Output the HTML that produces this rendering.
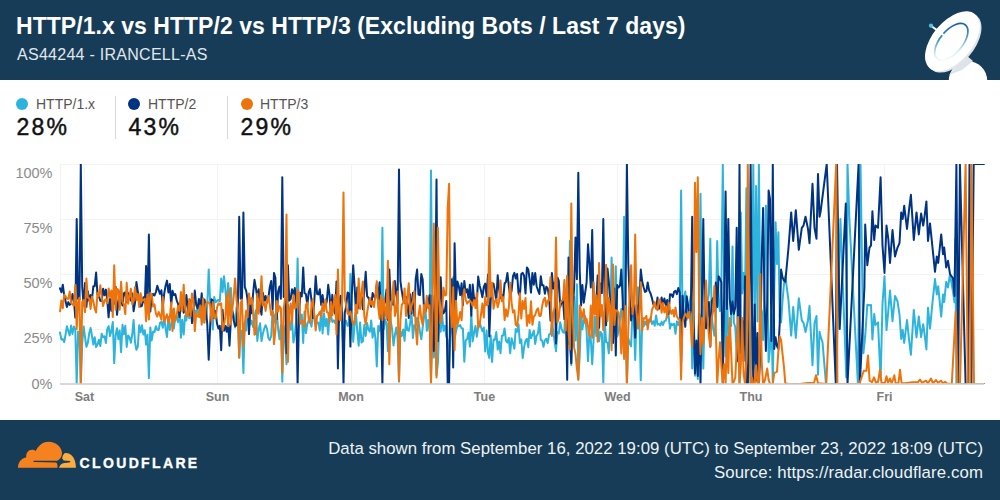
<!DOCTYPE html>
<html><head><meta charset="utf-8"><title>HTTP/1.x vs HTTP/2 vs HTTP/3</title>
<style>
html,body{margin:0;padding:0;}
body{width:1000px;height:500px;overflow:hidden;background:#fff;position:relative;font-family:"Liberation Sans",sans-serif;}
.abs{position:absolute;white-space:nowrap;}
#hdr{left:0;top:0;width:1000px;height:80px;background:#163C57;}
#ftr{left:0;top:420px;width:1000px;height:80px;background:#163C57;}
#title{left:16px;top:14.1px;font-size:23px;line-height:24px;font-weight:bold;color:#fff;letter-spacing:0.04px;}
#sub{left:17px;top:46.4px;font-size:16px;line-height:18px;color:#e1e7ec;letter-spacing:0.27px;}
.lg{font-size:14px;line-height:16px;color:#555;}
.lv{font-size:23px;line-height:24px;color:#111;-webkit-text-stroke:0.45px #111;letter-spacing:2.2px;}
.dot{width:12px;height:12px;border-radius:6px;}
.sep{width:1px;background:#d9d9d9;top:96px;height:43px;}
.ft{right:17px;font-size:16.8px;line-height:20px;color:#eef2f5;text-align:right;}
#cf{left:79.6px;top:455px;font-size:14px;line-height:16px;font-weight:bold;color:#fff;letter-spacing:2.35px;-webkit-text-stroke:0.35px #fff;}
</style></head><body>
<div id="hdr" class="abs"></div>
<div id="title" class="abs">HTTP/1.x vs HTTP/2 vs HTTP/3 (Excluding Bots / Last 7 days)</div>
<div id="sub" class="abs">AS44244 - IRANCELL-AS</div>

<svg class="abs" style="left:900px;top:0" width="100" height="80" viewBox="900 0 100 80">
 <defs>
  <linearGradient id="rg" x1="1" y1="0.2" x2="0" y2="0.8">
   <stop offset="0" stop-color="#0e5a9c"/><stop offset="0.4" stop-color="#3f93c4"/><stop offset="0.75" stop-color="#d9edf6"/><stop offset="1" stop-color="#ffffff"/>
  </linearGradient>
 </defs>
 <circle cx="968" cy="80.5" r="19.2" fill="#fff"/>
 <path d="M949 75 L966 55 L973 61 L962 70 Z" fill="#dde4e9"/>
 <g transform="rotate(-50 953 42.5)">
  <ellipse cx="953.6" cy="43.2" rx="35.3" ry="20.4" fill="#dfe5ea"/>
  <ellipse cx="953.6" cy="41.2" rx="35.3" ry="20" fill="#fff"/>
  <ellipse cx="952.4" cy="40.8" rx="22" ry="11.3" fill="none" stroke="url(#rg)" stroke-width="1.7"/>
 </g>
 <line x1="931.3" y1="26" x2="943" y2="34.6" stroke="#fff" stroke-width="2" stroke-linecap="round"/>
 <circle cx="931" cy="25.7" r="2.1" fill="#56c3de"/>
</svg>

<!-- legend -->
<div class="abs dot" style="left:16px;top:98px;background:#2DB4DC"></div>
<div class="abs lg" style="left:36px;top:96px">HTTP/1.x</div>
<div class="abs lv" style="left:16.5px;top:115px">28%</div>
<div class="abs sep" style="left:115px"></div>
<div class="abs dot" style="left:128px;top:98px;background:#003482"></div>
<div class="abs lg" style="left:148px;top:96px">HTTP/2</div>
<div class="abs lv" style="left:128.5px;top:115px">43%</div>
<div class="abs sep" style="left:227px"></div>
<div class="abs dot" style="left:240.5px;top:98px;background:#EE730A"></div>
<div class="abs lg" style="left:260px;top:96px">HTTP/3</div>
<div class="abs lv" style="left:240.5px;top:115px">29%</div>

<!-- chart -->
<svg class="abs" style="left:0;top:150px" width="1000" height="270" viewBox="0 150 1000 270">
 <defs><clipPath id="cp"><rect x="59" y="164" width="926" height="220"/></clipPath></defs>
 <g stroke="#f3f3f3" stroke-width="1" fill="none" shape-rendering="crispEdges">
  <path d="M60 164.5H984 M60 219.5H984 M60 274.5H984 M60 329.5H984"/>
  <path d="M60.5 164V384 M84.5 164V384 M217.5 164V384 M351.5 164V384 M484.5 164V384 M617.5 164V384 M751.5 164V384 M884.5 164V384"/>
 </g>
 <g fill="none" stroke-width="2" stroke-linejoin="round" stroke-linecap="round" clip-path="url(#cp)">
  <path stroke="#2DB4DC" d="M60.0 332.5 L61.4 339.4 L62.8 339.1 L64.2 342.0 L65.6 334.3 L66.9 326.3 L68.3 331.0 L69.7 335.4 L71.1 325.6 L72.5 333.9 L73.9 326.5 L75.3 329.4 L76.7 384.0 L78.1 331.4 L79.5 334.7 L80.8 384.0 L82.2 343.6 L83.6 326.5 L85.0 336.8 L86.4 346.8 L87.8 343.0 L89.2 333.3 L90.6 328.0 L92.0 336.0 L93.3 344.6 L94.7 337.2 L96.1 347.0 L97.5 344.5 L98.9 339.7 L100.3 346.1 L101.7 333.7 L103.1 337.3 L104.5 336.3 L105.9 343.1 L107.2 329.3 L108.6 326.2 L110.0 336.1 L111.4 330.8 L112.8 322.0 L114.2 363.1 L115.6 335.5 L117.0 328.3 L118.4 339.2 L119.7 330.6 L121.1 352.1 L122.5 324.8 L123.9 334.2 L125.3 325.7 L126.7 347.0 L128.1 335.4 L129.5 337.3 L130.9 342.7 L132.3 334.0 L133.6 319.9 L135.0 342.1 L136.4 349.8 L137.8 346.7 L139.2 325.2 L140.6 332.2 L142.0 325.3 L143.4 334.6 L144.8 330.2 L146.1 344.7 L147.5 334.8 L148.9 378.1 L150.3 327.4 L151.7 340.4 L153.1 331.6 L154.5 332.2 L155.9 326.3 L157.3 329.8 L158.7 330.0 L160.0 322.9 L161.4 321.9 L162.8 327.8 L164.2 316.4 L165.6 328.7 L167.0 337.0 L168.4 317.1 L169.8 330.0 L171.2 324.6 L172.5 310.2 L173.9 328.5 L175.3 317.0 L176.7 316.8 L178.1 322.2 L179.5 304.2 L180.9 337.7 L182.3 319.8 L183.7 334.5 L185.1 315.7 L186.4 320.5 L187.8 307.7 L189.2 318.2 L190.6 315.4 L192.0 315.4 L193.4 320.6 L194.8 310.2 L196.2 313.9 L197.6 307.4 L198.9 316.2 L200.3 317.6 L201.7 314.1 L203.1 322.0 L204.5 309.8 L205.9 319.2 L207.3 305.5 L208.7 269.6 L210.1 300.4 L211.5 311.0 L212.8 329.5 L214.2 296.9 L215.6 302.2 L217.0 300.7 L218.4 300.0 L219.8 301.5 L221.2 278.4 L222.6 291.9 L224.0 276.2 L225.3 289.2 L226.7 305.6 L228.1 283.0 L229.5 296.8 L230.9 287.9 L232.3 311.9 L233.7 314.7 L235.1 327.5 L236.5 307.2 L237.9 317.7 L239.2 357.6 L240.6 330.2 L242.0 332.9 L243.4 373.0 L244.8 321.5 L246.2 330.5 L247.6 314.7 L249.0 304.5 L250.4 324.5 L251.7 320.8 L253.1 327.0 L254.5 317.5 L255.9 310.3 L257.3 340.9 L258.7 329.1 L260.1 323.3 L261.5 341.1 L262.9 333.5 L264.3 328.5 L265.6 325.2 L267.0 328.8 L268.4 338.2 L269.8 340.1 L271.2 335.9 L272.6 311.1 L274.0 315.0 L275.4 323.8 L276.8 311.9 L278.1 328.8 L279.5 339.3 L280.9 325.0 L282.3 381.8 L283.7 325.8 L285.1 339.4 L286.5 364.2 L287.9 304.8 L289.3 319.0 L290.7 329.7 L292.0 319.3 L293.4 342.5 L294.8 335.4 L296.2 320.6 L297.6 258.6 L299.0 323.2 L300.4 315.5 L301.8 314.6 L303.2 343.0 L304.5 311.8 L305.9 333.3 L307.3 324.1 L308.7 320.4 L310.1 320.4 L311.5 326.7 L312.9 314.9 L314.3 314.0 L315.7 325.4 L317.1 322.2 L318.4 322.6 L319.8 330.7 L321.2 310.4 L322.6 333.4 L324.0 313.3 L325.4 326.3 L326.8 318.8 L328.2 334.5 L329.6 314.7 L330.9 315.5 L332.3 321.9 L333.7 320.4 L335.1 323.0 L336.5 316.0 L337.9 293.8 L339.3 308.9 L340.7 316.0 L342.1 319.5 L343.5 355.4 L344.8 320.7 L346.2 321.0 L347.6 325.9 L349.0 323.8 L350.4 274.0 L351.8 318.3 L353.2 341.8 L354.6 324.7 L356.0 314.5 L357.3 331.4 L358.7 345.7 L360.1 322.5 L361.5 342.6 L362.9 341.3 L364.3 325.0 L365.7 335.9 L367.1 323.1 L368.5 329.6 L369.9 331.7 L371.2 320.4 L372.6 337.7 L374.0 328.2 L375.4 338.1 L376.8 366.5 L378.2 326.1 L379.6 331.0 L381.0 321.4 L382.4 227.8 L383.7 329.1 L385.1 319.4 L386.5 323.8 L387.9 351.3 L389.3 298.2 L390.7 320.6 L392.1 329.2 L393.5 345.5 L394.9 335.0 L396.3 327.4 L397.6 337.6 L399.0 381.8 L400.4 331.2 L401.8 335.9 L403.2 329.5 L404.6 340.8 L406.0 319.3 L407.4 330.2 L408.8 330.8 L410.1 323.5 L411.5 312.7 L412.9 337.9 L414.3 325.2 L415.7 326.0 L417.1 318.0 L418.5 321.5 L419.9 331.5 L421.3 339.3 L422.7 327.3 L424.0 317.5 L425.4 308.3 L426.8 330.8 L428.2 320.0 L429.6 331.4 L431.0 170.6 L432.4 327.0 L433.8 357.6 L435.2 330.6 L436.5 375.2 L437.9 362.9 L439.3 324.8 L440.7 331.7 L442.1 314.6 L443.5 330.8 L444.9 325.7 L446.3 336.3 L447.7 340.0 L449.1 364.2 L450.4 336.6 L451.8 325.6 L453.2 277.3 L454.6 338.6 L456.0 331.3 L457.4 325.6 L458.8 326.3 L460.2 325.0 L461.6 328.5 L462.9 328.4 L464.3 361.8 L465.7 340.3 L467.1 339.2 L468.5 332.6 L469.9 346.6 L471.3 313.9 L472.7 341.4 L474.1 332.7 L475.5 326.0 L476.8 336.7 L478.2 327.2 L479.6 321.9 L481.0 327.0 L482.4 331.2 L483.8 327.5 L485.2 351.4 L486.6 330.5 L488.0 352.9 L489.3 357.9 L490.7 335.6 L492.1 362.0 L493.5 339.6 L494.9 339.9 L496.3 332.1 L497.7 349.6 L499.1 341.6 L500.5 353.2 L501.9 335.8 L503.2 335.5 L504.6 328.5 L506.0 340.9 L507.4 342.6 L508.8 337.9 L510.2 353.2 L511.6 338.3 L513.0 343.3 L514.4 348.7 L515.7 329.1 L517.1 331.7 L518.5 324.2 L519.9 342.9 L521.3 339.5 L522.7 358.0 L524.1 347.3 L525.5 340.6 L526.9 338.8 L528.3 347.2 L529.6 330.0 L531.0 338.1 L532.4 334.3 L533.8 330.7 L535.2 343.9 L536.6 335.7 L538.0 333.4 L539.4 322.0 L540.8 340.1 L542.1 340.4 L543.5 346.7 L544.9 340.4 L546.3 338.7 L547.7 343.1 L549.1 334.5 L550.5 334.0 L551.9 323.2 L553.3 330.7 L554.7 342.5 L556.0 351.2 L557.4 332.1 L558.8 333.5 L560.2 322.2 L561.6 328.8 L563.0 332.3 L564.4 332.8 L565.8 294.2 L567.2 276.1 L568.5 344.1 L569.9 240.9 L571.3 365.1 L572.7 306.1 L574.1 296.9 L575.5 340.5 L576.9 284.3 L578.3 379.5 L579.7 356.3 L581.1 314.3 L582.4 329.4 L583.8 320.1 L585.2 316.3 L586.6 330.8 L588.0 361.1 L589.4 333.2 L590.8 339.1 L592.2 364.3 L593.6 339.5 L594.9 316.6 L596.3 336.1 L597.7 314.9 L599.1 341.3 L600.5 331.9 L601.9 333.9 L603.3 382.7 L604.7 320.8 L606.1 342.0 L607.5 342.6 L608.8 353.3 L610.2 322.2 L611.6 257.5 L613.0 324.4 L614.4 318.5 L615.8 266.3 L617.2 336.5 L618.6 331.8 L620.0 318.7 L621.3 309.1 L622.7 320.4 L624.1 216.8 L625.5 318.5 L626.9 384.0 L628.3 338.6 L629.7 343.1 L631.1 346.3 L632.5 310.1 L633.9 323.4 L635.2 360.0 L636.6 314.7 L638.0 287.2 L639.4 319.7 L640.8 380.2 L642.2 319.6 L643.6 326.5 L645.0 321.4 L646.4 324.9 L647.7 320.3 L649.1 322.1 L650.5 317.8 L651.9 324.0 L653.3 321.2 L654.7 325.8 L656.1 315.5 L657.5 324.6 L658.9 323.8 L660.3 325.4 L661.6 321.8 L663.0 325.0 L664.4 321.1 L665.8 320.5 L667.2 314.7 L668.6 315.3 L670.0 328.5 L671.4 323.8 L672.8 325.0 L674.1 323.7 L675.5 333.8 L676.9 321.3 L678.3 325.0 L679.7 320.2 L681.1 190.4 L682.5 313.9 L683.9 299.3 L685.3 291.6 L686.7 319.8 L688.0 309.4 L689.4 303.7 L690.8 295.7 L692.2 368.6 L693.6 302.7 L695.0 375.8 L696.4 349.7 L697.8 378.9 L699.2 299.9 L700.5 193.7 L701.9 315.9 L703.3 368.6 L704.7 305.4 L706.1 323.1 L707.5 301.3 L708.9 294.0 L710.3 238.8 L711.7 315.3 L713.1 327.9 L714.4 335.7 L715.8 320.5 L717.2 241.0 L718.6 302.7 L720.0 311.0 L721.4 283.1 L722.8 164.0 L724.2 276.7 L725.6 356.5 L726.9 286.6 L728.3 340.0 L729.7 326.1 L731.1 326.2 L732.5 246.5 L733.9 322.7 L735.3 327.0 L736.7 355.2 L738.1 316.5 L739.5 384.0 L740.8 212.4 L742.2 293.5 L743.6 272.7 L745.0 295.2 L746.4 188.2 L747.8 384.0 L749.2 321.6 L750.6 384.0 L752.0 314.2 L753.3 164.0 L754.7 325.7 L756.1 186.0 L757.5 321.4 L758.9 164.0 L760.3 305.8 L761.7 311.4 L763.1 340.0 L764.5 287.5 L765.9 205.8 L767.2 265.1 L768.6 362.0 L770.0 348.8 L771.4 313.4 L772.8 384.0 L774.2 293.1 L775.6 222.3 L777.0 263.9 L778.4 232.2 L779.7 316.7 L781.1 322.4 L782.5 301.3 L783.9 285.0 L785.3 276.2 L788.5 300.4 L791.2 335.6 L793.2 307.0 L795.8 337.8 L798.8 298.2 L801.8 320.4 L803.5 322.9 L805.5 332.0 L808.0 320.2 L809.5 305.9 L812.5 365.3 L814.5 323.2 L816.5 316.0 L818.0 374.8 L819.5 331.7 L820.5 336.1 L822.5 342.2 L826.0 384.0 L836.0 384.0 L840.4 219.0 L846.3 377.4 L847.5 164.0 L849.5 221.2 L857.9 384.0 L860.5 164.0 L863.4 353.2 L865.2 336.7 L867.3 304.7 L869.5 305.3 L871.0 305.0 L872.4 339.4 L874.2 314.0 L875.5 324.9 L878.0 322.4 L880.6 379.8 L882.5 303.7 L884.5 276.2 L886.5 330.1 L888.3 311.0 L890.0 290.5 L892.5 321.2 L895.0 296.0 L897.5 301.3 L899.5 314.7 L901.2 338.9 L902.7 329.9 L904.2 343.0 L907.0 320.1 L909.0 339.1 L910.9 354.8 L913.8 309.9 L916.5 337.4 L918.8 316.4 L921.1 337.1 L923.2 324.2 L924.5 333.7 L926.4 349.4 L928.0 307.7 L930.0 328.5 L932.5 302.3 L935.0 279.1 L936.8 294.5 L938.2 286.3 L941.2 316.6 L943.0 294.5 L944.2 302.0 L946.2 281.7 L948.0 287.5 L950.0 274.2 L953.0 291.9 L954.5 302.3 L955.3 238.8 L956.4 384.0 L984.0 384.0"/>
  <path stroke="#003482" d="M60.0 288.3 L61.4 292.2 L62.8 284.7 L64.2 295.3 L65.6 301.4 L66.9 306.9 L68.3 302.1 L69.7 304.9 L71.1 303.4 L72.5 293.9 L73.9 299.8 L75.3 317.6 L76.7 219.0 L78.1 299.0 L79.5 299.4 L80.8 164.0 L82.2 286.6 L83.6 305.4 L85.0 283.1 L86.4 306.8 L87.8 291.2 L89.2 300.5 L90.6 295.1 L92.0 299.5 L93.3 286.3 L94.7 286.2 L96.1 272.5 L97.5 294.6 L98.9 296.1 L100.3 300.7 L101.7 301.1 L103.1 288.8 L104.5 295.3 L105.9 289.6 L107.2 299.5 L108.6 317.3 L110.0 299.0 L111.4 310.8 L112.8 293.0 L114.2 303.7 L115.6 286.8 L117.0 314.8 L118.4 302.7 L119.7 291.7 L121.1 298.2 L122.5 305.5 L123.9 293.2 L125.3 292.2 L126.7 302.3 L128.1 292.9 L129.5 298.1 L130.9 300.5 L132.3 293.5 L133.6 311.3 L135.0 302.8 L136.4 282.0 L137.8 291.3 L139.2 299.9 L140.6 306.6 L142.0 305.7 L143.4 297.3 L144.8 303.1 L146.1 266.1 L147.5 302.8 L148.9 234.4 L150.3 311.6 L151.7 297.0 L153.1 293.8 L154.5 295.5 L155.9 292.0 L157.3 285.8 L158.7 290.1 L160.0 293.9 L161.4 290.3 L162.8 307.2 L164.2 293.7 L165.6 285.7 L167.0 280.6 L168.4 292.5 L169.8 284.1 L171.2 304.9 L172.5 290.8 L173.9 295.1 L175.3 294.0 L176.7 300.3 L178.1 304.0 L179.5 317.0 L180.9 302.3 L182.3 300.8 L183.7 312.7 L185.1 307.6 L186.4 295.1 L187.8 308.6 L189.2 314.7 L190.6 300.2 L192.0 323.1 L193.4 311.3 L194.8 290.6 L196.2 304.8 L197.6 308.3 L198.9 298.9 L200.3 309.1 L201.7 293.3 L203.1 311.8 L204.5 299.4 L205.9 308.9 L207.3 324.5 L208.7 359.8 L210.1 327.2 L211.5 299.3 L212.8 300.5 L214.2 317.8 L215.6 311.1 L217.0 323.6 L218.4 328.6 L219.8 325.9 L221.2 350.3 L222.6 309.8 L224.0 330.8 L225.3 325.9 L226.7 331.8 L228.1 322.9 L229.5 345.8 L230.9 319.7 L232.3 310.6 L233.7 320.2 L235.1 326.1 L236.5 325.2 L237.9 301.2 L239.2 216.8 L240.6 298.4 L242.0 299.6 L243.4 212.4 L244.8 287.1 L246.2 290.9 L247.6 299.9 L249.0 334.1 L250.4 303.6 L251.7 313.3 L253.1 293.5 L254.5 279.8 L255.9 288.1 L257.3 297.3 L258.7 289.2 L260.1 306.1 L261.5 314.7 L262.9 292.8 L264.3 301.5 L265.6 295.9 L267.0 302.6 L268.4 297.8 L269.8 286.9 L271.2 281.0 L272.6 309.4 L274.0 272.9 L275.4 277.7 L276.8 319.1 L278.1 291.6 L279.5 286.5 L280.9 298.7 L282.3 177.2 L283.7 296.9 L285.1 295.4 L286.5 353.2 L287.9 265.2 L289.3 300.7 L290.7 298.9 L292.0 289.2 L293.4 294.8 L294.8 288.1 L296.2 304.2 L297.6 384.0 L299.0 315.9 L300.4 292.7 L301.8 296.4 L303.2 267.4 L304.5 293.2 L305.9 294.0 L307.3 305.3 L308.7 292.3 L310.1 288.7 L311.5 300.4 L312.9 318.1 L314.3 301.3 L315.7 276.2 L317.1 294.0 L318.4 294.4 L319.8 289.3 L321.2 304.9 L322.6 295.1 L324.0 307.4 L325.4 306.5 L326.8 301.2 L328.2 284.8 L329.6 295.4 L330.9 314.8 L332.3 294.8 L333.7 308.8 L335.1 313.8 L336.5 281.6 L337.9 368.6 L339.3 303.4 L340.7 295.7 L342.1 311.4 L343.5 384.0 L344.8 312.6 L346.2 306.1 L347.6 292.5 L349.0 293.3 L350.4 346.6 L351.8 294.9 L353.2 265.2 L354.6 286.3 L356.0 312.7 L357.3 287.4 L358.7 307.9 L360.1 300.6 L361.5 296.7 L362.9 309.3 L364.3 291.0 L365.7 271.8 L367.1 296.1 L368.5 297.9 L369.9 302.5 L371.2 306.8 L372.6 293.0 L374.0 296.7 L375.4 298.3 L376.8 284.3 L378.2 299.1 L379.6 282.3 L381.0 315.3 L382.4 384.0 L383.7 304.5 L385.1 302.2 L386.5 289.5 L387.9 319.9 L389.3 269.6 L390.7 298.8 L392.1 303.3 L393.5 304.9 L394.9 281.1 L396.3 294.4 L397.6 302.9 L399.0 169.5 L400.4 281.1 L401.8 291.1 L403.2 299.7 L404.6 302.8 L406.0 296.8 L407.4 305.5 L408.8 318.0 L410.1 294.3 L411.5 313.5 L412.9 292.7 L414.3 315.7 L415.7 278.9 L417.1 269.6 L418.5 294.6 L419.9 295.1 L421.3 274.0 L422.7 279.6 L424.0 309.4 L425.4 311.4 L426.8 305.5 L428.2 303.8 L429.6 295.2 L431.0 377.4 L432.4 295.5 L433.8 351.0 L435.2 300.2 L436.5 179.4 L437.9 341.3 L439.3 307.5 L440.7 277.3 L442.1 306.4 L443.5 313.4 L444.9 310.6 L446.3 301.0 L447.7 384.0 L449.1 384.0 L450.4 292.1 L451.8 279.3 L453.2 367.5 L454.6 243.2 L456.0 300.0 L457.4 281.5 L458.8 286.1 L460.2 295.1 L461.6 283.3 L462.9 305.2 L464.3 280.9 L465.7 292.6 L467.1 289.2 L468.5 297.8 L469.9 284.7 L471.3 315.7 L472.7 284.6 L474.1 299.2 L475.5 297.9 L476.8 302.6 L478.2 276.6 L479.6 285.4 L481.0 290.6 L482.4 297.2 L483.8 287.0 L485.2 283.6 L486.6 296.4 L488.0 274.6 L489.3 336.4 L490.7 299.6 L492.1 287.2 L493.5 283.6 L494.9 291.1 L496.3 300.9 L497.7 275.2 L499.1 289.0 L500.5 298.2 L501.9 294.9 L503.2 299.3 L504.6 283.5 L506.0 281.9 L507.4 272.9 L508.8 285.9 L510.2 296.0 L511.6 290.8 L513.0 276.2 L514.4 272.9 L515.7 278.5 L517.1 274.0 L518.5 292.9 L519.9 295.9 L521.3 274.0 L522.7 272.9 L524.1 275.8 L525.5 293.5 L526.9 267.4 L528.3 269.6 L529.6 279.2 L531.0 292.6 L532.4 272.9 L533.8 284.7 L535.2 273.1 L536.6 286.2 L538.0 290.3 L539.4 294.0 L540.8 276.2 L542.1 285.3 L543.5 285.3 L544.9 293.7 L546.3 286.7 L547.7 288.4 L549.1 297.1 L550.5 320.7 L551.9 272.9 L553.3 288.5 L554.7 282.5 L556.0 343.4 L557.4 277.4 L558.8 280.8 L560.2 306.9 L561.6 302.1 L563.0 299.8 L564.4 319.1 L565.8 307.4 L567.2 379.8 L568.5 257.5 L569.9 341.6 L571.3 363.3 L572.7 310.7 L574.1 287.7 L575.5 237.5 L576.9 279.3 L578.3 172.8 L579.7 270.2 L581.1 305.5 L582.4 285.0 L583.8 302.7 L585.2 292.5 L586.6 282.3 L588.0 244.3 L589.4 263.0 L590.8 287.5 L592.2 230.0 L593.6 310.3 L594.9 300.9 L596.3 300.6 L597.7 275.4 L599.1 327.7 L600.5 283.5 L601.9 293.0 L603.3 219.0 L604.7 305.0 L606.1 325.2 L607.5 268.5 L608.8 281.0 L610.2 302.8 L611.6 324.2 L613.0 343.0 L614.4 288.5 L615.8 355.6 L617.2 284.9 L618.6 287.5 L620.0 285.7 L621.3 269.5 L622.7 300.6 L624.1 356.3 L625.5 307.5 L626.9 164.0 L628.3 263.7 L629.7 296.6 L631.1 320.5 L632.5 307.7 L633.9 305.2 L635.2 337.6 L636.6 305.0 L638.0 316.4 L639.4 300.1 L640.8 269.6 L642.2 281.5 L643.6 287.2 L645.0 292.0 L646.4 291.2 L647.7 282.4 L649.1 290.4 L650.5 293.2 L651.9 297.9 L653.3 304.3 L654.7 304.1 L656.1 308.4 L657.5 297.4 L658.9 308.8 L660.3 305.6 L661.6 297.5 L663.0 303.9 L664.4 298.5 L665.8 305.2 L667.2 299.9 L668.6 314.1 L670.0 294.3 L671.4 294.5 L672.8 297.0 L674.1 291.8 L675.5 290.8 L676.9 294.1 L678.3 288.0 L679.7 292.4 L681.1 362.0 L682.5 295.7 L683.9 315.2 L685.3 326.8 L686.7 296.2 L688.0 304.8 L689.4 316.9 L690.8 310.5 L692.2 216.8 L693.6 320.3 L695.0 373.5 L696.4 340.6 L697.8 375.9 L699.2 314.1 L700.5 384.0 L701.9 298.1 L703.3 219.0 L704.7 315.5 L706.1 328.3 L707.5 312.8 L708.9 302.0 L710.3 346.6 L711.7 301.1 L713.1 298.1 L714.4 310.4 L715.8 282.5 L717.2 307.0 L718.6 276.2 L720.0 278.8 L721.4 282.5 L722.8 384.0 L724.2 291.1 L725.6 191.5 L726.9 308.9 L728.3 219.0 L729.7 298.6 L731.1 314.2 L732.5 301.5 L733.9 313.9 L735.3 307.1 L736.7 227.8 L738.1 361.4 L739.5 164.0 L740.8 353.2 L742.2 320.5 L743.6 361.0 L745.0 276.2 L746.4 384.0 L747.8 384.0 L749.2 327.5 L750.6 164.0 L752.0 311.5 L753.3 384.0 L754.7 304.6 L756.1 380.7 L757.5 333.1 L758.9 384.0 L760.3 352.2 L761.7 258.6 L763.1 208.0 L764.5 299.6 L765.9 351.0 L767.2 303.4 L768.6 190.4 L770.0 199.2 L771.4 341.1 L772.8 164.0 L774.2 348.9 L775.6 337.3 L777.0 346.4 L778.4 349.0 L779.7 323.8 L781.1 269.6 L782.5 277.1 L783.9 280.6 L785.3 281.8 L788.5 247.6 L791.2 212.4 L793.2 241.0 L795.8 210.2 L798.8 249.8 L801.8 227.8 L803.5 225.6 L805.5 216.8 L808.0 228.9 L809.5 243.2 L812.5 183.8 L814.5 227.8 L816.5 238.8 L818.0 173.9 L819.5 216.8 L820.5 212.4 L826.7 164.0 L835.8 384.0 L837.0 164.0 L839.7 329.0 L845.8 203.6 L847.5 384.0 L858.6 164.0 L859.9 384.0 L864.4 287.2 L865.2 224.5 L867.3 265.2 L869.5 247.6 L871.0 245.4 L872.4 211.3 L874.2 239.9 L875.5 225.6 L878.0 227.8 L880.6 177.2 L882.5 245.4 L884.5 272.9 L886.5 225.6 L888.3 238.8 L890.0 263.0 L892.5 230.0 L895.0 256.4 L897.5 247.6 L899.5 243.2 L901.2 212.4 L902.7 219.0 L904.2 205.8 L907.0 228.9 L909.0 210.2 L910.9 194.8 L913.8 239.9 L916.5 212.4 L918.8 234.4 L921.1 213.5 L923.2 225.6 L924.5 216.8 L926.4 201.4 L928.0 241.0 L930.0 223.4 L932.5 247.6 L935.0 271.8 L936.8 256.4 L938.2 263.0 L941.2 234.4 L943.0 254.2 L944.2 247.6 L946.2 267.4 L948.0 260.8 L950.0 274.0 L953.0 278.4 L954.5 296.0 L956.4 164.0 L958.2 384.0 L959.9 164.0 L965.6 384.0 L968.0 384.0 L969.5 164.0 L971.4 384.0 L973.7 164.0 L984.0 164.0"/>
  <path stroke="#EE730A" d="M60.0 311.3 L61.4 300.4 L62.8 308.2 L64.2 294.7 L65.6 296.4 L66.9 298.8 L68.3 298.9 L69.7 291.6 L71.1 303.0 L72.5 304.3 L73.9 305.7 L75.3 285.0 L76.7 329.0 L78.1 301.6 L79.5 297.8 L80.8 384.0 L82.2 301.8 L83.6 300.1 L85.0 312.1 L86.4 278.4 L87.8 297.8 L89.2 298.2 L90.6 308.9 L92.0 296.5 L93.3 301.0 L94.7 308.6 L96.1 312.5 L97.5 292.9 L98.9 296.2 L100.3 285.2 L101.7 297.2 L103.1 306.0 L104.5 300.4 L105.9 299.4 L107.2 303.2 L108.6 288.5 L110.0 296.9 L111.4 290.4 L112.8 316.9 L114.2 265.2 L115.6 309.6 L117.0 288.8 L118.4 290.0 L119.7 309.7 L121.1 281.7 L122.5 301.6 L123.9 304.7 L125.3 314.1 L126.7 282.7 L128.1 303.7 L129.5 296.6 L130.9 288.8 L132.3 304.5 L133.6 300.8 L135.0 287.1 L136.4 300.2 L137.8 294.0 L139.2 306.9 L140.6 293.2 L142.0 301.0 L143.4 300.1 L144.8 298.7 L146.1 321.2 L147.5 294.4 L148.9 319.5 L150.3 293.0 L151.7 294.6 L153.1 306.6 L154.5 304.3 L155.9 313.6 L157.3 316.5 L158.7 311.9 L160.0 315.2 L161.4 319.8 L162.8 297.0 L164.2 321.9 L165.6 317.6 L167.0 314.4 L168.4 322.4 L169.8 317.9 L171.2 302.5 L172.5 331.0 L173.9 308.4 L175.3 321.0 L176.7 314.9 L178.1 305.8 L179.5 310.8 L180.9 292.0 L182.3 311.4 L183.7 284.8 L185.1 308.7 L186.4 316.5 L187.8 315.7 L189.2 299.1 L190.6 316.4 L192.0 293.5 L193.4 300.1 L194.8 331.1 L196.2 313.3 L197.6 316.4 L198.9 316.8 L200.3 305.4 L201.7 324.6 L203.1 298.2 L204.5 322.8 L205.9 303.9 L207.3 302.0 L208.7 302.6 L210.1 304.4 L211.5 321.7 L212.8 302.0 L214.2 317.3 L215.6 318.8 L217.0 307.7 L218.4 303.4 L219.8 304.7 L221.2 303.3 L222.6 330.3 L224.0 325.0 L225.3 316.9 L226.7 294.6 L228.1 326.1 L229.5 289.4 L230.9 324.4 L232.3 309.4 L233.7 297.0 L235.1 278.4 L236.5 299.6 L237.9 313.1 L239.2 357.6 L240.6 303.4 L242.0 299.5 L243.4 346.6 L244.8 323.5 L246.2 310.6 L247.6 317.4 L249.0 293.4 L250.4 303.9 L251.7 297.9 L253.1 311.4 L254.5 334.7 L255.9 333.6 L257.3 293.8 L258.7 313.7 L260.1 302.7 L261.5 276.2 L262.9 305.7 L264.3 302.0 L265.6 310.9 L267.0 300.6 L268.4 296.0 L269.8 305.0 L271.2 315.1 L272.6 311.5 L274.0 344.1 L275.4 330.5 L276.8 301.0 L278.1 311.6 L279.5 306.2 L280.9 308.3 L282.3 373.0 L283.7 309.3 L285.1 297.2 L286.5 214.6 L287.9 362.0 L289.3 312.3 L290.7 303.4 L292.0 323.5 L293.4 294.7 L294.8 308.5 L296.2 307.2 L297.6 289.4 L299.0 292.9 L300.4 323.8 L301.8 321.0 L303.2 321.6 L304.5 327.0 L305.9 304.7 L307.3 302.6 L308.7 319.3 L310.1 322.9 L311.5 305.0 L312.9 299.0 L314.3 316.6 L315.7 330.4 L317.1 315.9 L318.4 314.9 L319.8 312.0 L321.2 316.7 L322.6 303.5 L324.0 311.3 L325.4 299.2 L326.8 312.0 L328.2 312.7 L329.6 322.0 L330.9 301.7 L332.3 315.3 L333.7 302.9 L335.1 295.1 L336.5 334.4 L337.9 269.6 L339.3 319.7 L340.7 320.3 L342.1 301.1 L343.5 192.6 L344.8 298.7 L346.2 304.9 L347.6 313.5 L349.0 314.9 L350.4 311.4 L351.8 318.8 L353.2 325.0 L354.6 320.9 L356.0 304.8 L357.3 313.2 L358.7 278.4 L360.1 308.9 L361.5 292.7 L362.9 281.4 L364.3 316.0 L365.7 324.3 L367.1 312.8 L368.5 304.5 L369.9 297.8 L371.2 304.7 L372.6 301.3 L374.0 307.1 L375.4 295.6 L376.8 281.2 L378.2 306.8 L379.6 318.7 L381.0 295.3 L382.4 320.2 L383.7 298.4 L385.1 310.4 L386.5 318.7 L387.9 260.8 L389.3 364.2 L390.7 312.6 L392.1 299.6 L393.5 281.6 L394.9 315.9 L396.3 310.2 L397.6 291.5 L399.0 380.7 L400.4 319.7 L401.8 304.9 L403.2 302.8 L404.6 288.4 L406.0 315.9 L407.4 296.3 L408.8 283.2 L410.1 314.2 L411.5 305.8 L412.9 301.4 L414.3 291.1 L415.7 327.0 L417.1 344.4 L418.5 315.8 L419.9 305.4 L421.3 318.7 L422.7 325.0 L424.0 305.1 L425.4 312.3 L426.8 295.8 L428.2 308.2 L429.6 305.3 L431.0 384.0 L432.4 309.6 L433.8 223.4 L435.2 301.2 L436.5 377.4 L437.9 227.8 L439.3 299.7 L440.7 323.0 L442.1 311.0 L443.5 287.8 L444.9 295.6 L446.3 294.7 L447.7 208.0 L449.1 183.8 L450.4 303.3 L451.8 327.1 L453.2 287.2 L454.6 350.2 L456.0 300.8 L457.4 324.9 L458.8 319.6 L460.2 311.9 L461.6 320.2 L462.9 298.4 L464.3 289.3 L465.7 299.2 L467.1 303.6 L468.5 301.6 L469.9 300.7 L471.3 302.5 L472.7 306.0 L474.1 300.1 L475.5 308.1 L476.8 292.7 L478.2 328.3 L479.6 324.7 L481.0 314.3 L482.4 303.6 L483.8 317.5 L485.2 297.0 L486.6 305.1 L488.0 304.6 L489.3 237.7 L490.7 296.8 L492.1 282.8 L493.5 308.8 L494.9 301.0 L496.3 299.0 L497.7 307.2 L499.1 301.4 L500.5 280.6 L501.9 301.3 L503.2 297.2 L504.6 320.0 L506.0 309.2 L507.4 316.5 L508.8 308.2 L510.2 282.8 L511.6 302.8 L513.0 312.5 L514.4 310.4 L515.7 324.5 L517.1 326.2 L518.5 314.9 L519.9 293.3 L521.3 318.5 L522.7 301.1 L524.1 308.9 L525.5 297.9 L526.9 325.8 L528.3 315.2 L529.6 322.9 L531.0 301.3 L532.4 324.8 L533.8 316.5 L535.2 315.0 L536.6 310.2 L538.0 308.4 L539.4 316.0 L540.8 315.7 L542.1 306.3 L543.5 300.0 L544.9 297.9 L546.3 306.5 L547.7 300.5 L549.1 300.4 L550.5 277.3 L551.9 335.9 L553.3 312.9 L554.7 307.0 L556.0 237.5 L557.4 322.5 L558.8 317.7 L560.2 302.9 L561.6 301.1 L563.0 299.9 L564.4 280.1 L565.8 330.4 L567.2 276.1 L568.5 330.4 L569.9 349.5 L571.3 203.6 L572.7 315.2 L574.1 347.4 L575.5 354.1 L576.9 368.4 L578.3 379.7 L579.7 305.5 L581.1 312.1 L582.4 317.7 L583.8 309.3 L585.2 323.2 L586.6 318.9 L588.0 326.6 L589.4 335.8 L590.8 305.4 L592.2 337.7 L593.6 282.2 L594.9 314.5 L596.3 295.4 L597.7 341.7 L599.1 263.0 L600.5 316.5 L601.9 305.0 L603.3 330.3 L604.7 306.3 L606.1 264.7 L607.5 320.9 L608.8 297.8 L610.2 307.0 L611.6 350.3 L613.0 264.6 L614.4 325.0 L615.8 310.1 L617.2 310.6 L618.6 312.7 L620.0 327.5 L621.3 353.4 L622.7 311.0 L624.1 358.9 L625.5 306.0 L626.9 384.0 L628.3 329.6 L629.7 292.3 L631.1 265.2 L632.5 314.2 L633.9 303.5 L635.2 234.4 L636.6 312.3 L638.0 328.4 L639.4 312.1 L640.8 282.2 L642.2 330.9 L643.6 318.3 L645.0 318.5 L646.4 315.9 L647.7 329.3 L649.1 319.6 L650.5 321.0 L651.9 310.2 L653.3 306.6 L654.7 302.1 L656.1 308.1 L657.5 310.1 L658.9 299.4 L660.3 301.0 L661.6 312.7 L663.0 303.1 L664.4 312.4 L665.8 306.3 L667.2 317.4 L668.6 302.6 L670.0 309.2 L671.4 313.7 L672.8 310.0 L674.1 316.6 L675.5 307.4 L676.9 316.6 L678.3 319.0 L679.7 319.4 L681.1 379.6 L682.5 322.4 L683.9 317.6 L685.3 313.6 L686.7 316.0 L688.0 318.0 L689.4 311.4 L690.8 325.9 L692.2 346.6 L693.6 318.0 L695.0 182.7 L696.4 252.0 L697.8 177.2 L699.2 318.0 L700.5 354.3 L701.9 318.0 L703.3 344.4 L704.7 311.4 L706.1 280.6 L707.5 318.0 L708.9 336.0 L710.3 346.6 L711.7 318.0 L713.1 311.4 L714.4 285.9 L715.8 329.0 L717.2 384.0 L718.6 360.4 L720.0 342.2 L721.4 366.4 L722.8 384.0 L724.2 364.2 L725.6 384.0 L726.9 336.5 L728.3 373.0 L729.7 318.0 L731.1 351.0 L732.5 384.0 L733.9 381.6 L735.3 377.4 L736.7 349.0 L738.1 316.9 L739.5 384.0 L740.8 366.4 L742.2 318.0 L743.6 373.0 L745.0 384.0 L746.4 359.8 L747.8 164.0 L749.2 296.0 L750.6 384.0 L752.0 377.8 L753.3 384.0 L754.7 384.0 L756.1 365.3 L757.5 384.0 L758.9 384.0 L760.3 274.0 L761.7 362.0 L763.1 384.0 L764.5 381.8 L765.9 375.2 L767.2 368.6 L768.6 379.6 L770.0 384.0 L771.4 384.0 L772.8 384.0 L774.2 373.0 L775.6 372.4 L777.0 371.7 L778.4 350.8 L779.7 336.3 L781.1 340.0 L782.5 353.5 L783.9 366.4 L785.3 383.3 L788.0 384.0 L790.0 384.0 L800.0 384.0 L808.0 382.9 L814.0 382.9 L816.0 375.2 L818.0 383.3 L826.3 384.0 L836.2 164.0 L837.4 384.0 L859.3 384.0 L863.8 370.8 L866.4 370.8 L868.0 355.4 L869.6 380.7 L872.0 382.2 L874.0 377.4 L876.0 382.9 L878.0 381.8 L880.0 369.7 L881.5 382.9 L885.0 382.9 L886.5 376.3 L888.0 382.9 L890.0 378.5 L891.5 383.3 L893.0 379.6 L894.3 375.2 L895.6 383.3 L898.5 382.9 L900.0 369.7 L901.5 382.9 L905.0 383.3 L912.0 382.2 L918.0 382.2 L920.0 379.6 L922.0 382.9 L926.0 380.7 L928.0 383.3 L931.0 378.5 L933.0 383.3 L936.0 380.0 L938.0 382.9 L941.0 380.7 L943.0 383.3 L945.0 381.8 L947.0 383.6 L951.8 384.0 L955.7 311.4 L957.6 384.0 L960.0 384.0 L965.6 164.0 L967.8 384.0 L970.2 384.0 L971.4 164.0 L974.0 384.0 L984.0 384.0"/>
 </g>
 <rect x="60" y="383.2" width="924" height="1.6" fill="#cfcfcf"/>
 <g font-family="Liberation Sans, sans-serif" font-size="14.5" fill="#8a8a8a" text-anchor="end">
  <text x="52.5" y="177.5">100%</text><text x="52.5" y="232.5">75%</text><text x="52.5" y="287.5">50%</text>
  <text x="52.5" y="342.5">25%</text><text x="52.5" y="389">0%</text>
 </g>
 <g font-family="Liberation Sans, sans-serif" font-size="12.5" font-weight="bold" fill="#7d7d7d" text-anchor="middle">
  <text x="84.5" y="401">Sat</text><text x="217.5" y="401">Sun</text><text x="351" y="401">Mon</text><text x="484.5" y="401">Tue</text>
  <text x="617.5" y="401">Wed</text><text x="751" y="401">Thu</text><text x="884.5" y="401">Fri</text>
 </g>
</svg>

<div id="ftr" class="abs"></div>
<svg class="abs" style="left:14px;top:438px" width="66" height="34" viewBox="14 438 66 34">
 <path d="M18 467.8 C18 463 20.5 458.8 26.2 457.3 C25.8 453 28.5 449.7 32 449.7 C33.5 449.7 34.8 450.2 35.8 451 C38.5 445 43.5 441.8 48.6 441.8 C56 441.8 62 447.5 62 453 C62 456.5 60.5 459 57.3 460.7 L33.5 460.7 L33.5 462 L56.3 462.4 C57.3 463.5 57.8 465.5 57.4 467.8 Z" fill="#F6821F"/>
 <path d="M59 467.8 C59.8 465 61.5 463.4 64.4 463 L69.5 462.4 L70.3 461.6 L70.3 460.9 L63.7 460.4 L62.1 458.3 C62.5 456 63.3 454.3 64.6 453.2 C69 452.3 73 455.5 74.6 460 C75.5 462.5 75.9 465 75.9 467.8 Z" fill="#FBAD41"/>
</svg>
<div id="cf" class="abs">CLOUDFLARE</div>
<div class="abs ft" style="top:438.8px;letter-spacing:0.023px">Data shown from September 16, 2022 19:09 (UTC) to September 23, 2022 18:09 (UTC)</div>
<div class="abs ft" style="top:463.2px;letter-spacing:0.117px">Source: https://radar.cloudflare.com</div>
</body></html>
